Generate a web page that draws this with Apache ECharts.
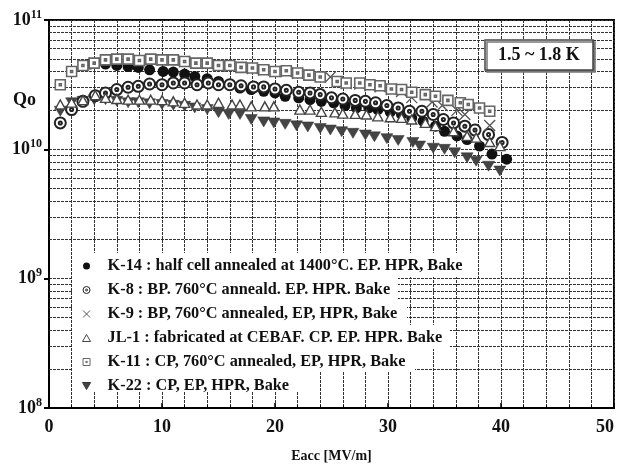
<!DOCTYPE html>
<html><head><meta charset="utf-8">
<script src="https://cdn.jsdelivr.net/npm/echarts@6/dist/echarts.min.js"></script>
<style>html,body{margin:0;padding:0;background:#fff}#c{width:620px;height:468px}</style>
</head><body><div id="c"></div>
<script>
// Eacc [MV/m] and Qo (in units of 1e10)
const K14_E = [3.6,5.0,6.0,7.0,7.9,8.9,10.1,11.0,12.0,12.9,14.0,15.0,16.0,16.9,17.9,19.0,20.0,20.9,22.1,23.1,24.1,25.2,26.2,27.2,28.3,29.1,30.2,31.2,32.1,33.1,34.2,35.0,36.1,37.0,38.1,39.2,40.5];
const K14_Q = [4.56,4.56,4.45,4.37,4.3,4.12,4.0,3.96,3.82,3.66,3.52,3.35,3.16,2.98,2.9,2.81,2.73,2.57,2.5,2.42,2.35,2.29,2.18,2.09,2.09,2.03,1.94,1.86,1.75,1.65,1.51,1.38,1.27,1.19,1.06,0.92,0.84];

const K8_E = [1.0,2.0,3.0,4.1,5.0,6.0,7.0,7.9,8.9,10.0,11.0,12.0,13.1,14.1,15.0,16.0,17.0,18.1,19.0,20.0,21.0,22.1,23.1,24.0,25.0,26.0,27.1,28.0,28.9,29.9,30.9,31.9,33.0,34.0,34.9,35.8,36.8,37.7,38.9,40.1];
const K8_Q = [1.6,2.03,2.35,2.6,2.73,2.9,3.02,3.07,3.2,3.16,3.26,3.26,3.16,3.26,3.16,3.16,3.1,3.04,3.04,2.93,2.86,2.76,2.73,2.65,2.5,2.45,2.39,2.35,2.29,2.18,2.09,1.97,1.97,1.86,1.7,1.6,1.51,1.41,1.3,1.13];

const K9_E = [3,4,5,6,7,8,9,10,11,12,13,14,15,16,17,18,19,20,21,22,23,24.9,26.3,27.5,28.4,29.3,30.3,31.2,32.1,33.9,34.8,36.1,36.8,39.0];
const K9_Q = [4.45,4.64,4.9,4.98,4.98,4.86,4.95,4.9,4.9,4.78,4.64,4.6,4.45,4.4,4.3,4.22,4.1,4.0,4.0,3.87,3.75,3.62,3.22,3.2,3.1,3.05,2.9,2.8,2.51,2.32,2.18,2.0,1.86,1.53];

const JL1_E = [1.0,2.0,3.0,4.1,5.0,6.0,7.0,8.0,9.0,10.0,11.0,12.0,13.1,14.0,15.0,16.2,16.9,17.9,19.1,19.9,22.2,23.1,24.1,25.3,26.0,27.1,28.1,29.1,30.2,31.2,32.1,33.3,34.2,35.8,37.0,37.8,39.0,39.9];
const JL1_Q = [2.22,2.3,2.4,2.62,2.5,2.45,2.42,2.42,2.42,2.4,2.35,2.29,2.22,2.22,2.29,2.22,2.22,2.15,2.15,2.15,2.03,2.03,1.95,1.93,1.89,1.88,1.86,1.8,1.77,1.75,1.7,1.6,1.51,1.38,1.27,1.23,1.14,1.06];

const K11_E = [1,2,3,4,5,6,7,8,9,10,11,12,13,14,15,16,17,18,19,20,21,22,23,24,25.5,26.3,27.5,28.4,29.3,30.3,31.2,32.1,33.3,34.2,35.3,36.4,37.1,38.1,39.0];
const K11_Q = [3.16,4.0,4.45,4.64,4.92,4.98,4.98,4.86,4.98,4.92,4.92,4.78,4.64,4.64,4.45,4.45,4.3,4.25,4.12,4.0,4.05,3.89,3.75,3.62,3.35,3.26,3.26,3.16,3.1,2.93,2.9,2.76,2.65,2.57,2.39,2.29,2.22,2.09,1.97];

const K22_E = [1,2,3,4,5,6,7,7.9,8.9,10,11,12,12.9,14,15,15.9,16.9,17.9,19,19.9,20.9,21.9,22.9,24,24.9,25.9,26.9,28,28.8,29.9,30.9,32.2,32.8,34,35,35.9,37,37.8,38.9,39.9];
const K22_Q = [1.97,2.29,2.35,2.42,2.42,2.35,2.29,2.29,2.25,2.22,2.19,2.15,2.09,2.03,1.92,1.86,1.86,1.7,1.63,1.6,1.56,1.52,1.49,1.45,1.41,1.37,1.33,1.29,1.25,1.21,1.17,1.13,1.06,1.02,1.0,0.94,0.86,0.81,0.74,0.68];

const SERIES_NAMES = [
  'K-14 : half cell annealed at 1400°C. EP. HPR, Bake',
  'K-8 : BP. 760°C anneald. EP. HPR. Bake',
  'K-9 : BP, 760°C annealed, EP, HPR, Bake',
  'JL-1 : fabricated at CEBAF. CP. EP. HPR. Bake',
  'K-11 : CP, 760°C annealed, EP, HPR, Bake',
  'K-22 : CP, EP, HPR, Bake'
];
const X_TICKS = [0,10,20,30,40,50];
const Q_MINOR = [2e8,3e8,4e8,5e8,6e8,7e8,8e8,9e8,2e9,3e9,4e9,5e9,6e9,7e9,8e9,9e9,2e10,3e10,4e10,5e10,6e10,7e10,8e10,9e10];

const pts = (E, Q) => E.map((e, i) => [e, Q[i] * 1e10]);
const SERIF = '"Liberation Serif", "DejaVu Serif", serif';
const GRID = {color:'#333', width:1, type:[3,1]};

// white patches behind each legend row (legend text covers the grid)
const legendMask = [
  [72, 253, 398, 24], [72, 277, 326, 24], [72, 301, 335, 24],
  [72, 325, 378, 24], [72, 349, 343, 23], [72, 372, 228, 20]
].map(r => ({type:'rect', z:3, silent:true, shape:{x:r[0], y:r[1], width:r[2], height:r[3]}, style:{fill:'#fff'}}));

const chart = echarts.init(document.getElementById('c'), null, {renderer:'canvas'});
chart.setOption({
  animation: false,
  backgroundColor: '#fff',
  grid: {left:49, top:20, right:6, bottom:55, show:true, borderColor:'#000', borderWidth:2, backgroundColor:'transparent'},
  title: {
    text: '1.5 ~ 1.8 K', left: 485, top: 40, padding: [6, 13],
    borderColor: '#444', borderWidth: 1.5, backgroundColor: '#fff',
    shadowColor: '#777', shadowOffsetX: 2, shadowOffsetY: 2, shadowBlur: 0,
    textStyle: {fontFamily: SERIF, fontWeight: 'bold', fontSize: 18, color: '#111'}
  },
  legend: {
    orient: 'vertical', left: 78, top: 254, itemWidth: 32, itemHeight: 7, itemGap: 8,
    padding: [4, 10, 4, 4],
    itemStyle: {borderWidth: 1},
    textStyle: {fontFamily: SERIF, fontWeight: 'bold', fontSize: 16.3, color: '#111', lineHeight: 16},
    data: SERIES_NAMES
  },
  graphic: legendMask.concat([
    {type:'text', left: 13, top: 91, style:{text:'Qo', font:'bold 18px "Liberation Serif"', fill:'#111'}}
  ]),
  xAxis: {
    type: 'value', min: X_TICKS[0], max: X_TICKS[X_TICKS.length-1], interval: 10,
    name: 'Eacc [MV/m]', nameLocation: 'middle', nameGap: 41,
    nameTextStyle: {fontFamily: SERIF, fontWeight: 'bold', fontSize: 14, color: '#111'},
    axisLine: {show: true, lineStyle: {color: '#000', width: 2}},
    axisTick: {show: true, inside: true, length: 5, lineStyle: {color: '#000', width: 1.5}},
    minorTick: {show: true, splitNumber: 5, length: 3, lineStyle: {color: '#000'}},
    splitLine: {show: true, lineStyle: GRID},
    minorSplitLine: {show: true, lineStyle: GRID},
    axisLabel: {margin: 10, alignMaxLabel: 'right', fontFamily: SERIF, fontWeight: 'bold', fontSize: 18, color: '#111'}
  },
  yAxis: {
    type: 'log', logBase: 10, min: 1e8, max: 1e11,
    axisLine: {show: true, lineStyle: {color: '#000', width: 2}},
    axisTick: {show: true, inside: false, length: 5, lineStyle: {color: '#000', width: 2}},
    splitLine: {show: true, lineStyle: GRID},
    axisLabel: {
      margin: 7,
      formatter: v => '{b|10}{s|' + Math.round(Math.log10(v)) + '}',
      rich: {
        b: {fontFamily: SERIF, fontWeight: 'bold', fontSize: 18, color: '#111'},
        s: {fontFamily: SERIF, fontWeight: 'bold', fontSize: 12, color: '#111', padding: [0, 0, 11, 0]}
      }
    }
  },
  series: [
    {type:'line', data:[], z:1, silent:true,
     markLine:{z:1, silent:true, symbol:'none', label:{show:false}, lineStyle:GRID, animation:false,
       data: Q_MINOR.map(v => ({yAxis: v}))}},
    {name: SERIES_NAMES[5], type:'scatter', data: pts(K22_E, K22_Q),
     symbol:'path://M0,0 L10,0 L5,8.66 Z', symbolSize:[12,10],
     itemStyle:{color:'#444', borderColor:'#333', borderWidth:0.5, opacity:1}},
    {name: SERIES_NAMES[0], type:'scatter', data: pts(K14_E, K14_Q),
     symbol:'circle', symbolSize:11, itemStyle:{color:'#111', opacity:1}},
    {name: SERIES_NAMES[1], type:'scatter', data: pts(K8_E, K8_Q),
     symbol:'path://M0,5 A5,5 0 1,0 10,5 A5,5 0 1,0 0,5 Z M3.6,5 A1.4,1.4 0 1,0 6.4,5 A1.4,1.4 0 1,0 3.6,5 Z',
     symbolSize:11, itemStyle:{color:'#fff', borderColor:'#222', borderWidth:2, opacity:1}},
    {name: SERIES_NAMES[2], type:'scatter', data: pts(K9_E, K9_Q),
     symbol:'path://M0,0 L10,10 M10,0 L0,10', symbolSize:11,
     itemStyle:{color:'rgba(0,0,0,0)', borderColor:'#555', borderWidth:1.3, opacity:1}},
    {name: SERIES_NAMES[3], type:'scatter', data: pts(JL1_E, JL1_Q),
     symbol:'path://M5,0 L10,8.66 L0,8.66 Z', symbolSize:[10,9],
     itemStyle:{color:'#fff', borderColor:'#444', borderWidth:1.4, opacity:1}},
    {name: SERIES_NAMES[4], type:'scatter', data: pts(K11_E, K11_Q),
     symbol:'path://M0,0 L10,0 L10,10 L0,10 Z M4,4 L6,4 L6,6 L4,6 Z', symbolSize:10,
     itemStyle:{color:'#fff', borderColor:'#666', borderWidth:1.6, opacity:1}}
  ]
});
</script></body></html>
